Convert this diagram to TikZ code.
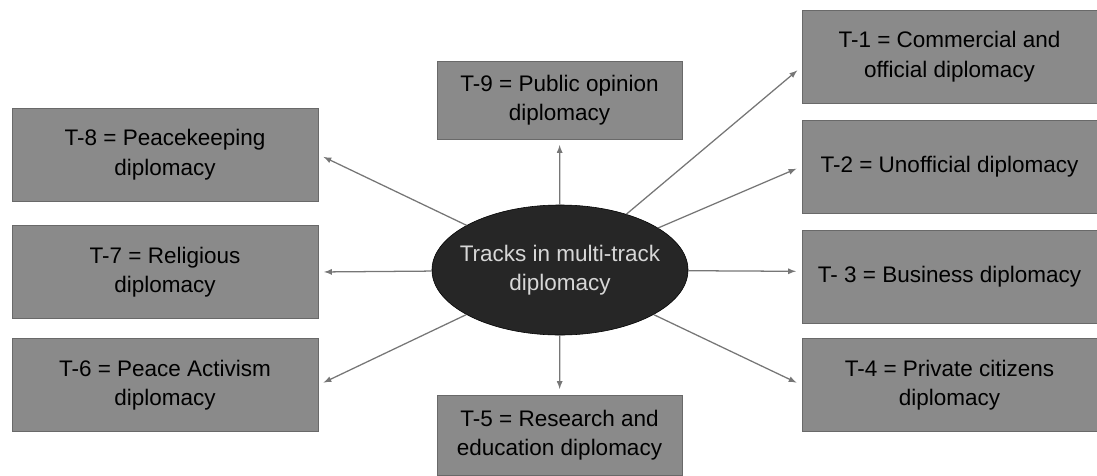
\documentclass[tikz,border=0pt]{standalone}
\usepackage{fontspec}
\setmainfont{Liberation Sans}
\usepackage{tikz}
\usetikzlibrary{arrows}
\usetikzlibrary{arrows.meta}
\usetikzlibrary{shapes.geometric}
\definecolor{boxgray}{RGB}{138,138,138}
\definecolor{edgegray}{RGB}{105,105,105}
\definecolor{arrowgray}{RGB}{118,118,118}
\definecolor{hubdark}{RGB}{38,38,38}
\definecolor{hubtext}{RGB}{215,215,215}
\tikzset{>=latex}
\tikzstyle{track} = [draw = edgegray, fill = boxgray, line width = 0.6pt, align = center, inner sep = 0, text = black, font = \fontsize{16}{21}\selectfont]
\tikzstyle{lbox} = [track, minimum width = 7.65cm, minimum height = 2.325cm]
\tikzstyle{rbox} = [track, minimum width = 7.375cm, minimum height = 2.325cm]
\tikzstyle{mbox} = [track, minimum width = 6.125cm, minimum height = 1.95cm]
\tikzstyle{spoke} = [-latex, draw = arrowgray, line width = 0.9pt, shorten > = 4pt]

\begin{document}
\begin{tikzpicture}[x = 0.025cm, y = -0.025cm]
\useasboundingbox (0, 0) rectangle (1097, 475);
% hub
\node [ellipse, draw = black, fill = hubdark, text = hubtext, align = center, inner xsep = -0.25cm, inner ysep = 0, minimum width = 6.4cm, minimum height = 3.25cm, font = \fontsize{16}{21}\selectfont] (C) at (560, 270) {Tracks in multi-track\\diplomacy};
% left column
\node [lbox] (T8) at (165, 154.5) {T-8 = Peacekeeping\\diplomacy};
\node [lbox] (T7) at (165, 272) {T-7 = Religious\\diplomacy};
\node [lbox] (T6) at (165, 385) {T-6 = Peace Activism\\diplomacy};
% middle
\node [mbox] (T9) at (559.5, 100) {T-9 = Public opinion\\diplomacy};
\node [mbox, minimum height = 2cm] (T5) at (559.5, 435) {T-5 = Research and\\education diplomacy};
% right column
\node [rbox] (T1) at (949.5, 56.5) {T-1 = Commercial and\\official diplomacy};
\node [rbox] (T2) at (949.5, 166.5) {T-2 = Unofficial diplomacy};
\node [rbox] (T3) at (949.5, 276.5) {T- 3 = Business diplomacy};
\node [rbox] (T4) at (949.5, 385) {T-4 = Private citizens\\diplomacy};
% spokes
\draw [spoke] (C) to (T9);
\draw [spoke] (C) to (T5);
\draw [spoke] (C) to (T8.east);
\draw [spoke] (C) to (T7.east);
\draw [spoke] (C) to (T6.east);
\draw [spoke] (C) to (T1.184);
\draw [spoke] (C) to (T2.west);
\draw [spoke] (C) to (T3.178);
\draw [spoke] (C) to (T4.west);
\end{tikzpicture}
\end{document}
